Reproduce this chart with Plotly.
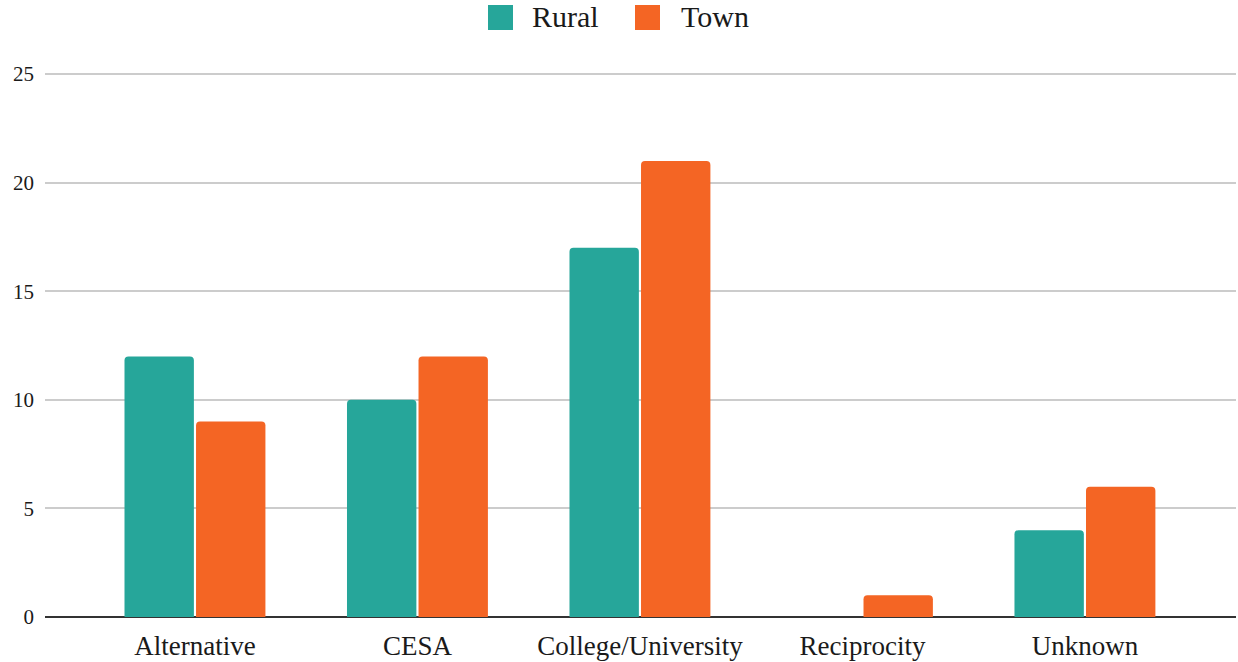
import plotly.graph_objects as go

categories = ["Alternative", "CESA", "College/University", "Reciprocity", "Unknown"]
rural = [12, 10, 17, 0, 4]
town = [9, 12, 21, 1, 6]
series_names = ["Rural", "Town"]
series_colors = ["#26A69A", "#F46524"]
y_ticks = [0, 5, 10, 15, 20, 25]

FONT = "Liberation Serif"
W, H = 1238, 662
L, R, T, B = 45, 2, 73, 45
Y_TOP = 25.05  # a hair above the last tick so its gridline is drawn

fig = go.Figure()
for name, vals, col in zip(series_names, [rural, town], series_colors):
    fig.add_trace(go.Bar(
        x=list(range(len(categories))), y=vals, name=name,
        marker=dict(color=col, line=dict(width=0)),
        showlegend=False,
    ))

# pixel -> paper helpers for the hand-built legend
pw = W - L - R
ph = H - T - B
def px(x):
    return (x - L) / pw
def py(y):
    return (H - B - y) / ph

legend_items = [(series_names[0], series_colors[0], 488, 530),
                (series_names[1], series_colors[1], 635, 679)]
shapes = []
annotations = []
for name, col, sx, tx in legend_items:
    shapes.append(dict(type="rect", xref="paper", yref="paper",
                       x0=px(sx), x1=px(sx + 25), y0=py(30), y1=py(5),
                       fillcolor=col, line=dict(width=0)))
    annotations.append(dict(xref="paper", yref="paper", x=px(tx), y=py(17),
                            text=name, showarrow=False, xanchor="left",
                            yanchor="middle",
                            font=dict(family=FONT, size=30, color="#1a1a1a")))

fig.update_layout(
    width=W, height=H,
    margin=dict(l=L, r=R, t=T, b=B),
    paper_bgcolor="white", plot_bgcolor="white",
    barmode="group", bargap=0.357, bargroupgap=0.03,
    barcornerradius=4,
    shapes=shapes, annotations=annotations,
    xaxis=dict(
        tickmode="array", tickvals=list(range(len(categories))),
        ticktext=categories, range=[-0.674, 4.679],
        showgrid=False, zeroline=False, showline=False, ticks="",
        ticklabelstandoff=10,
        tickfont=dict(family=FONT, size=27, color="#1a1a1a"),
        fixedrange=True,
    ),
    yaxis=dict(
        range=[0, Y_TOP], tickvals=y_ticks,
        showgrid=True, gridcolor="#cccccc", gridwidth=2,
        zeroline=True, zerolinecolor="#333333", zerolinewidth=2,
        showline=False, ticks="", ticklabelstandoff=10,
        tickfont=dict(family=FONT, size=21, color="#1a1a1a"),
        fixedrange=True,
    ),
)

fig.write_html("out.html")
